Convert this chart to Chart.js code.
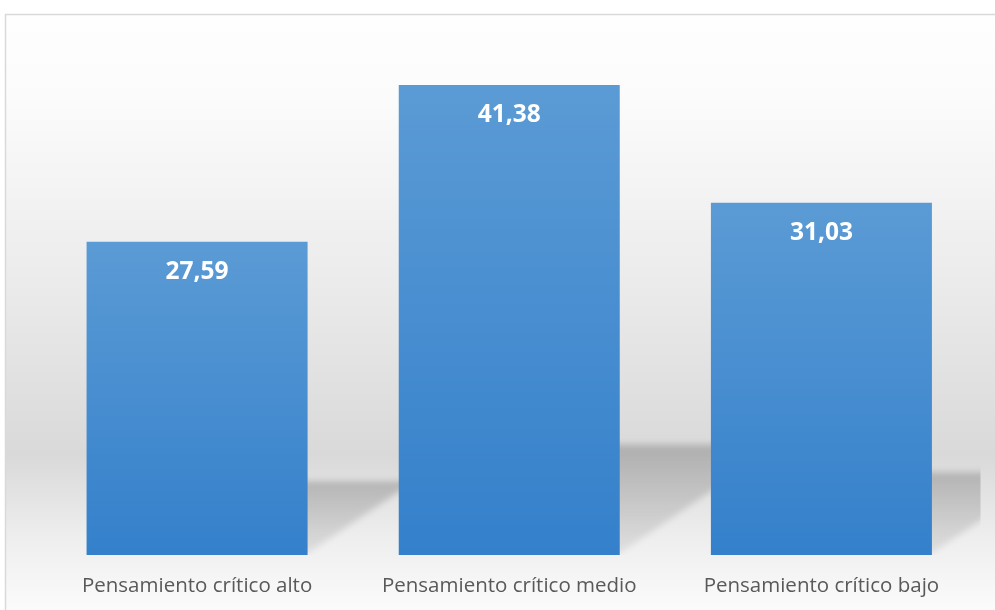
<!DOCTYPE html>
<html>
<head>
<meta charset="utf-8">
<script src="https://cdn.jsdelivr.net/npm/chart.js@4/dist/chart.umd.min.js"></script>
<style>
  html, body { margin: 0; padding: 0; background: #ffffff; }
  #wrap { width: 995px; height: 610px; position: relative; }
</style>
</head>
<body>
<div id="wrap"><canvas id="c" width="995" height="610"></canvas></div>
<script>
const categories = ['Pensamiento crítico alto', 'Pensamiento crítico medio', 'Pensamiento crítico bajo'];
const values = [27.59, 41.38, 31.03];
const yMin = 0;
const yMax = 45;

const backgroundPlugin = {
  id: 'bg',
  beforeDraw(chart) {
    const ctx = chart.ctx;
    ctx.save();
    ctx.fillStyle = '#ffffff';
    ctx.fillRect(0, 0, chart.width, chart.height);
    const g = ctx.createLinearGradient(0, 14, 0, 610);
    g.addColorStop(0, '#fefefe');
    g.addColorStop(0.15, '#fbfbfb');
    g.addColorStop(0.45, '#ebebeb');
    g.addColorStop(0.74, '#d9d9d9');
    g.addColorStop(0.88, '#eeeeee');
    g.addColorStop(1, '#fbfbfb');
    ctx.fillStyle = g;
    ctx.fillRect(5.5, 14.5, 1000, 700);
    ctx.strokeStyle = '#d9d9d9';
    ctx.lineWidth = 1.5;
    ctx.strokeRect(5.5, 14.5, 1000, 700);
    ctx.restore();
  }
};

const shadowPlugin = {
  id: 'floorShadow',
  beforeDatasetsDraw(chart) {
    const ctx = chart.ctx;
    const meta = chart.getDatasetMeta(0);
    const area = chart.chartArea;
    ctx.save();
    ctx.beginPath();
    ctx.rect(area.left, area.top, area.right + 3 - area.left, area.bottom - area.top);
    ctx.clip();
    meta.data.forEach((bar) => {
      const half = bar.width / 2;
      const left = bar.x - half, right = bar.x + half;
      const base = bar.base, top = bar.y;
      const hs = 0.235 * (base - top);
      const dx = hs / 0.69;
      const g = ctx.createLinearGradient(0, base - hs, 0, base);
      g.addColorStop(0, 'rgba(0,0,0,0.19)');
      g.addColorStop(1, 'rgba(0,0,0,0.07)');
      ctx.save();
      ctx.filter = 'blur(3px)';
      ctx.fillStyle = g;
      ctx.beginPath();
      ctx.moveTo(left, base - 2);
      ctx.lineTo(right, base - 2);
      ctx.lineTo(right + dx, base - hs);
      ctx.lineTo(left + dx, base - hs);
      ctx.closePath();
      ctx.fill();
      ctx.restore();
    });
    ctx.restore();
  }
};

const valueLabelPlugin = {
  id: 'valueLabels',
  afterDatasetsDraw(chart) {
    const ctx = chart.ctx;
    const meta = chart.getDatasetMeta(0);
    ctx.save();
    ctx.fillStyle = '#ffffff';
    ctx.font = 'bold 24.5px "Open Sans"';
    ctx.textAlign = 'center';
    ctx.textBaseline = 'middle';
    meta.data.forEach((bar, i) => {
      const txt = values[i].toFixed(2).replace('.', ',');
      ctx.fillText(txt, bar.x, bar.y + 30);
    });
    ctx.restore();
  }
};

function barGradient(context) {
  const chart = context.chart;
  const area = chart.chartArea;
  if (!area) return '#4a8fd2';
  const yScale = chart.scales.y;
  const v = values[context.dataIndex];
  const yTop = yScale.getPixelForValue(v);
  const yBase = yScale.getPixelForValue(yMin);
  const g = chart.ctx.createLinearGradient(0, yTop, 0, yBase);
  g.addColorStop(0, '#5b9bd5');
  g.addColorStop(1, '#3480cb');
  return g;
}

new Chart(document.getElementById('c'), {
  type: 'bar',
  data: {
    labels: categories,
    datasets: [{
      data: values,
      backgroundColor: barGradient,
      borderWidth: 0,
      categoryPercentage: 1,
      barPercentage: 0.708
    }]
  },
  options: {
    responsive: false,
    animation: false,
    devicePixelRatio: 1,
    layout: { padding: { left: 41, right: 17.5, top: 44, bottom: 0 } },
    plugins: {
      legend: { display: false },
      tooltip: { enabled: false },
      title: { display: false }
    },
    scales: {
      x: {
        grid: { display: false, drawTicks: false },
        border: { display: false },
        afterFit(scale) { scale.height = 55; },
        ticks: {
          color: '#595959',
          font: { family: '"Open Sans"', size: 20.5 },
          padding: 19,
          maxRotation: 0,
          autoSkip: false
        }
      },
      y: {
        display: false,
        min: yMin,
        max: yMax
      }
    }
  },
  plugins: [backgroundPlugin, shadowPlugin, valueLabelPlugin]
});
</script>
</body>
</html>
